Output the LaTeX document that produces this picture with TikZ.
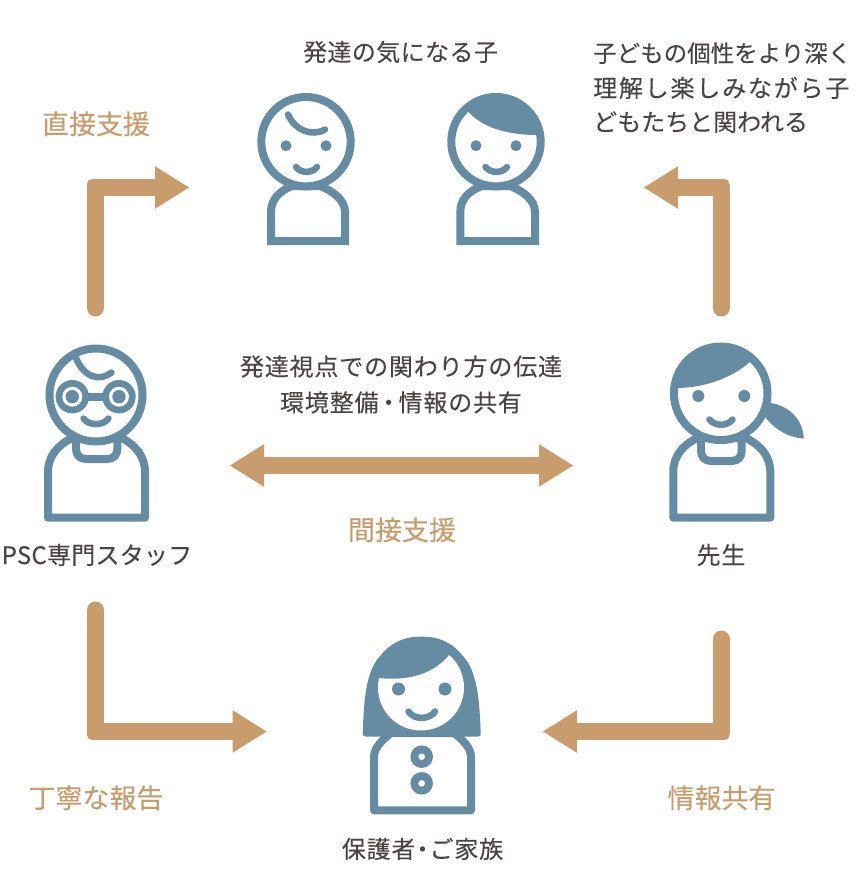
\documentclass[tikz,border=0pt]{standalone}
\usepackage{fontspec}
\usetikzlibrary{arrows.meta}
\newfontfamily\jpfont[LetterSpace=3.5,FakeBold=0.12]{Noto Sans CJK JP}
\newfontfamily\jptitle[LetterSpace=1.7,FakeBold=0.12]{Noto Sans CJK JP}
\newfontfamily\jpnarrow[LetterSpace=0,FakeBold=0.12]{Noto Sans CJK JP}
\newfontfamily\jpwide[LetterSpace=7.5,FakeBold=0.12]{Noto Sans CJK JP}
\newfontfamily\jpstaff[LetterSpace=1,FakeBold=0.12]{Noto Sans CJK JP}
\newfontfamily\jptan[FakeBold=0.12]{Noto Sans CJK JP}
\definecolor{teal1}{HTML}{658CA2}
\definecolor{tan1}{HTML}{C89C6C}
\definecolor{ink}{HTML}{4A4544}
\newcommand{\jpsize}{\fontsize{24}{34.5}\selectfont}
\tikzset{
  x=1pt,y=-1pt,
  ring/.style={draw=teal1,line width=8pt,fill=white},
  bodyline/.style={draw=teal1,line width=8pt,fill=white},
  smile/.style={draw=teal1,line width=6.5pt,line cap=round},
  dot/.style={fill=teal1},
  conn/.style={draw=tan1,line width=17pt,line cap=round,line join=round,
     -{Triangle[length=34.5pt,width=40pt]}},
  both/.style={draw=tan1,line width=17pt,
     {Triangle[length=34.5pt,width=40pt]}-{Triangle[length=34.5pt,width=40pt]}},
  cornerpatch/.style={fill=tan1,rounded corners=5pt},
  txt/.style={text=ink,inner sep=0pt,font=\jpfont\jpsize},
  tanlabel/.style={text=tan1,inner sep=0pt,font=\jptan\fontsize{27}{30}\selectfont},
}
\begin{document}
\begin{tikzpicture}
\path[use as bounding box,fill=white] (0,0) rectangle (867,881);

% ---------- connectors
\coordinate (a1s) at (95.5,308);  \coordinate (a1c) at (95.5,187.5); \coordinate (a1e) at (189.5,187.5);
\coordinate (a2s) at (721,308);   \coordinate (a2c) at (721,187.5);  \coordinate (a2e) at (643.5,187.5);
\coordinate (a3s) at (95.5,610);  \coordinate (a3c) at (95.5,731.5); \coordinate (a3e) at (267,731.5);
\coordinate (a4s) at (721,639);   \coordinate (a4c) at (721,731.5);  \coordinate (a4e) at (542.5,731.5);
\coordinate (d1) at (229.5,465.5); \coordinate (d2) at (573.5,465.5);
\draw[conn] (a1s) -- (a1c) -- (a1e);
\draw[conn] (a2s) -- (a2c) -- (a2e);
\draw[conn] (a3s) -- (a3c) -- (a3e);
\draw[conn] (a4s) -- (a4c) -- (a4e);
\draw[both] (d1) -- (d2);
\path[cornerpatch] (87,179) rectangle (100,192);
\path[cornerpatch] (729.5,179) rectangle (716,192);
\path[cornerpatch] (87,740) rectangle (100,727);
\path[cornerpatch] (729.5,740) rectangle (716,727);

% ---------- child 1
\draw[bodyline] (271,241) -- (271,212) .. controls (271,200) and (279,191) .. (292,186) -- (320,186) .. controls (333,191) and (345,200) .. (345,212) -- (345,241) -- cycle;
\draw[ring] (306,141.7) circle[radius=44.7pt];
\fill[dot] (286,145.7) circle[radius=5.5pt];
\fill[dot] (326,145.7) circle[radius=5.5pt];
\draw[smile] (296,167) .. controls (301,173.5) and (312,173.5) .. (317,167);
\draw[smile] (288,114.5) .. controls (295,130) and (311,137) .. (325,129.5);

% ---------- child 2
\draw[bodyline] (460.3,241) -- (460.3,212) .. controls (460.3,200) and (468,191) .. (482,186) -- (510,186) .. controls (523,191) and (535,200) .. (535,212) -- (535,241) -- cycle;
\draw[ring] (496,141.7) circle[radius=44.7pt];
\begin{scope}
\clip (496,141.7) circle[radius=46pt];
\fill[teal1] (467.5,111) .. controls (482,127) and (505,135) .. (538,135) -- (560,135) -- (560,80) -- (467,80) -- cycle;
\end{scope}
\fill[dot] (476,145.7) circle[radius=5.5pt];
\fill[dot] (516,145.7) circle[radius=5.5pt];
\draw[smile] (485.5,167) .. controls (491,173.5) and (502,173.5) .. (507,167);

% ---------- PSC staff
\draw[bodyline,line join=round] (48,517.7) -- (48,472) .. controls (48,456) and (58,445) .. (72,438) -- (122,438) .. controls (135,445) and (145,456) .. (145,472) -- (145,517.7) -- cycle;
\draw[teal1,line width=8pt] (76,438) -- (76,449) .. controls (76,455) and (80,459) .. (86,459) -- (107.3,459) .. controls (113.3,459) and (117.3,455) .. (117.3,449) -- (117.3,438);
\draw[ring] (96,395) circle[radius=46.5pt];
\draw[smile] (83.5,418.5) .. controls (89,426) and (103,426) .. (108.5,418.5);
\draw[smile] (76,358) .. controls (83,375) and (97,383) .. (111.5,372.5);
\draw[teal1,line width=8pt] (72.3,396.7) -- (119,396.7);
\foreach \gx in {72.3,119}{
  \fill[teal1] (\gx,396.7) circle[radius=16.7pt];
  \fill[white] (\gx,396.7) circle[radius=10pt];
  \fill[teal1] (\gx,396.7) circle[radius=6.7pt];
}

% ---------- teacher
\fill[teal1] (766,402) .. controls (790,405) and (803,420) .. (803.8,438.5) .. controls (790,438) and (775,430) .. (766,418) -- cycle;
\draw[bodyline,line join=round] (673.3,517.7) -- (673.3,472) .. controls (673.3,456) and (683,445) .. (697,438) -- (746,438) .. controls (760,445) and (770.3,456) .. (770.3,472) -- (770.3,517.7) -- cycle;
\draw[teal1,line width=8pt] (701,438) -- (701,451) .. controls (701,457) and (705,461) .. (711,461) -- (731.7,461) .. controls (737.7,461) and (741.7,457) .. (741.7,451) -- (741.7,438);
\draw[ring] (720.7,393.3) circle[radius=46.8pt];
\begin{scope}
\clip (720.7,393.3) circle[radius=48pt];
\fill[teal1] (670,388) .. controls (700,389) and (730,380) .. (751,361) -- (751,340) -- (670,340) -- cycle;
\end{scope}
\fill[dot] (698.3,396) circle[radius=6pt];
\fill[dot] (744.3,396) circle[radius=6pt];
\draw[smile] (709.5,419.5) .. controls (715,426.5) and (727,426.5) .. (732.5,419.5);

% ---------- family
\draw[bodyline,line join=round] (374,810.3) -- (374,757) .. controls (374,748) and (382,740) .. (391,733) -- (454,733) .. controls (463,740) and (471,748) .. (471,757) -- (471,810.3) -- cycle;
\fill[teal1,rounded corners=3pt] (362.7,736.7) -- (362.7,733) .. controls (364,700) and (366,672) .. (381,655) .. controls (392,642) and (406,636.7) .. (421.7,636.7) .. controls (437,636.7) and (451,642) .. (462,655) .. controls (477,672) and (479.5,700) .. (480.7,733) -- (480.7,736.7) -- cycle;
\begin{scope}
\clip (421,687.5) circle[radius=43pt];
\fill[white] (370,677) .. controls (410,683) and (435,673) .. (450,654) -- (480,654) -- (480,740) -- (370,740) -- cycle;
\end{scope}
\fill[dot] (398.5,689) circle[radius=6.5pt];
\fill[dot] (445,689) circle[radius=6.5pt];
\draw[smile] (408.5,711.5) .. controls (414,720) and (429,720) .. (435,711.5);
\foreach \by in {756.7,783.3}{
  \fill[teal1] (421.7,\by) circle[radius=11.3pt];
  \fill[white] (421.7,\by) circle[radius=3.3pt];
}

% ---------- texts
\node[txt,font=\jptitle\jpsize,anchor=base] (tChild) at (400.5,61) {発達の気になる子};
\node[txt,font=\jpnarrow\fontsize{23.5}{30}\selectfont,anchor=base west] (tA1) at (593,62) {子どもの個性をより深く};
\node[txt,font=\jpwide\jpsize,anchor=base west] (tA2) at (593,97) {理解し楽しみながら子};
\node[txt,font=\jpnarrow\fontsize{24}{30}\selectfont,anchor=base west] (tA3) at (593,131) {どもたちと関われる};
\node[tanlabel,anchor=base] (tDirect) at (96,134) {直接支援};
\node[txt,anchor=base] (tM1) at (401,375.5) {発達視点での関わり方の伝達};
\node[txt,anchor=base] (tM2) at (401,411.5) {環境整備\kern-2pt・\kern-2pt 情報の共有};
\node[tanlabel,anchor=base] (tInd) at (402,540) {間接支援};
\node[txt,font=\jpstaff\jpsize,anchor=base] (tPSC) at (97,564) {PSC専門スタッフ};
\node[txt,anchor=base] (tTeach) at (721,564) {先生};
\node[tanlabel,anchor=base] (tRep) at (96,808) {丁寧な報告};
\node[tanlabel,anchor=base] (tInfo) at (721.5,808) {情報共有};
\node[txt,anchor=base] (tFam) at (422.5,858) {保護者\kern-5pt・\kern-5pt ご家族};
\end{tikzpicture}
\end{document}
